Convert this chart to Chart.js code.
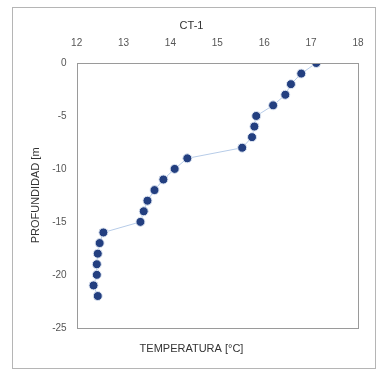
<!DOCTYPE html>
<html>
<head>
<meta charset="utf-8">
<script src="https://cdn.jsdelivr.net/npm/chart.js@4"></script>
<style>
  body { margin: 0; background: #fff; }
  #box { position: absolute; left: 12px; top: 7px; width: 362px; height: 360px; border: 1px solid #b5b5b5; }
  canvas { display: block; }
</style>
</head>
<body>
<div id="box"><canvas id="chart" width="362" height="360"></canvas></div>
<script>
const depths = [0, -1, -2, -3, -4, -5, -6, -7, -8, -9, -10, -11, -12, -13, -14, -15, -16, -17, -18, -19, -20, -21, -22];
const temps = [17.11, 16.79, 16.57, 16.45, 16.19, 15.83, 15.79, 15.74, 15.53, 14.36, 14.09, 13.85, 13.66, 13.51, 13.43, 13.36, 12.57, 12.49, 12.45, 12.43, 12.43, 12.36, 12.45];
const tempTicks = [12, 13, 14, 15, 16, 17, 18];
const depthTicks = [0, -5, -10, -15, -20, -25];

const points = temps.map((t, i) => ({ x: t, y: depths[i] }));

// gray frame round the plot area
const frame = {
    id: "frame",
    afterDraw(chart) {
        const a = chart.chartArea;
        const c = chart.ctx;
        c.save();
        c.strokeStyle = "#9a9a9a";
        c.lineWidth = 1;
        c.strokeRect(Math.round(a.left) + 0.5, Math.round(a.top) + 0.5, Math.round(a.right - a.left), Math.round(a.bottom - a.top));
        c.restore();
    }
};

new Chart(document.getElementById("chart"), {
    type: "scatter",
    data: {
        datasets: [{
            data: points,
            showLine: true,
            borderColor: "#b7cce8",
            borderWidth: 1,
            pointRadius: 4.5,
            pointBackgroundColor: "#233f80",
            pointBorderColor: "#dfe7f3",
            pointBorderWidth: 1
        }]
    },
    plugins: [frame],
    options: {
        responsive: false,
        animation: false,
        layout: { padding: { left: 12, right: 17, top: 4, bottom: 4 } },
        plugins: {
            legend: { display: false },
            tooltip: { enabled: false },
            title: {
                display: true,
                text: "CT-1",
                color: "#333",
                font: { family: "Liberation Sans", size: 11, weight: "normal", lineHeight: 1 },
                padding: { top: 8, bottom: 0 }
            },
            subtitle: {
                display: true,
                position: "bottom",
                text: "TEMPERATURA [°C]",
                color: "#333",
                font: { family: "Liberation Sans", size: 11 },
                padding: { top: 15, bottom: 8 }
            }
        },
        scales: {
            x: {
                type: "linear",
                position: "top",
                min: 12,
                max: 18,
                afterBuildTicks: s => { s.ticks = tempTicks.map(v => ({ value: v })); },
                afterFit: s => { s.height = 32; s.paddingLeft = 0; s.paddingRight = 0; },
                grid: { display: false, drawTicks: false },
                border: { display: false },
                ticks: { color: "#555", padding: 14, font: { family: "Liberation Sans", size: 10 } }
            },
            y: {
                type: "linear",
                min: -25,
                max: 0,
                afterBuildTicks: s => { s.ticks = depthTicks.map(v => ({ value: v })); },
                grid: { display: false, drawTicks: false },
                border: { display: false },
                title: {
                    display: true,
                    text: "PROFUNDIDAD [m",
                    color: "#333",
                    font: { family: "Liberation Sans", size: 11 },
                    padding: { top: 4, bottom: 0 }
                },
                ticks: { color: "#555", padding: 10, font: { family: "Liberation Sans", size: 10 } }
            }
        }
    }
});
</script>
</body>
</html>
